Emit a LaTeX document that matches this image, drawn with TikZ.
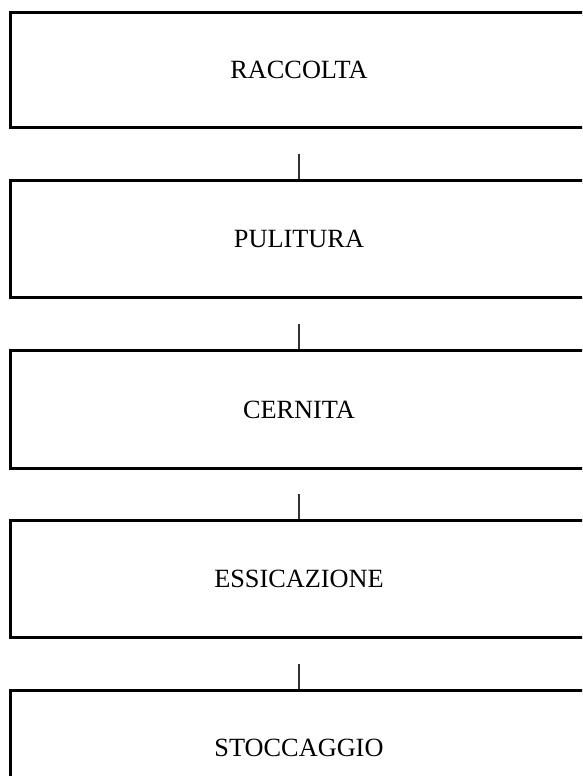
\documentclass[tikz,border=0pt]{standalone}
\usepackage{fontspec}
\setmainfont{Liberation Serif}
\begin{document}
\begin{tikzpicture}[x=1pt,y=1pt,
  stage/.style={draw=black, line width=3pt, rectangle, minimum width=577pt, inner sep=0pt, font=\fontsize{26.3}{31}\selectfont},
  link/.style={draw=black!80, line width=1.2pt}]
\useasboundingbox (0,0) rectangle (582,-776);
\clip (0,0) rectangle (582,-776);
\foreach \i/\t/\top/\bot in {1/RACCOLTA/12.5/127.5,2/PULITURA/180.5/297.3,3/CERNITA/350.7/468.3,4/ESSICAZIONE/520.7/637.8,5/STOCCAGGIO/690.5/806}{
  \node[stage, minimum height={\bot-\top}] (b\i) at (299,{-(\top+\bot)/2}) {\t};
}
\foreach \i in {2,3,4,5}{
  \coordinate (c\i) at ([yshift=25pt]b\i.north);
  \draw[link] (c\i) -- (b\i.north);
}
\end{tikzpicture}
\end{document}
